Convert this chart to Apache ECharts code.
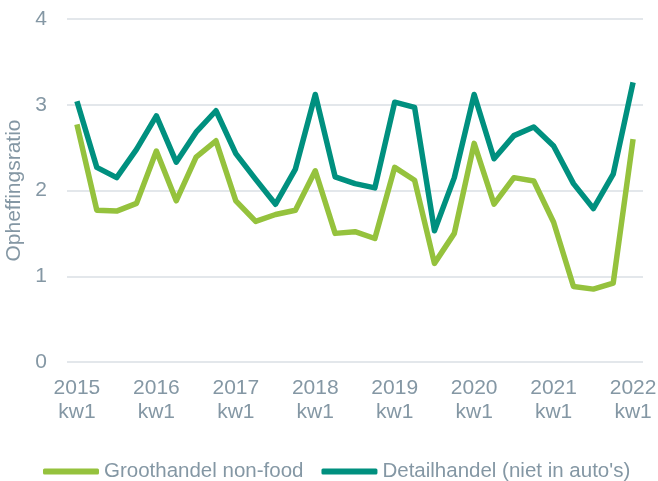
<!DOCTYPE html>
<html>
<head>
<meta charset="utf-8">
<script src="https://cdn.jsdelivr.net/npm/echarts@6/dist/echarts.min.js"></script>
<style>
  html, body { margin: 0; padding: 0; background: #fff; }
  #chart { width: 658px; height: 481px; }
</style>
</head>
<body>
<div id="chart"></div>
<script>
// kwartalen 2015 kw1 t/m 2022 kw1
const quarters = [
  '2015\nkw1', '2015\nkw2', '2015\nkw3', '2015\nkw4',
  '2016\nkw1', '2016\nkw2', '2016\nkw3', '2016\nkw4',
  '2017\nkw1', '2017\nkw2', '2017\nkw3', '2017\nkw4',
  '2018\nkw1', '2018\nkw2', '2018\nkw3', '2018\nkw4',
  '2019\nkw1', '2019\nkw2', '2019\nkw3', '2019\nkw4',
  '2020\nkw1', '2020\nkw2', '2020\nkw3', '2020\nkw4',
  '2021\nkw1', '2021\nkw2', '2021\nkw3', '2021\nkw4',
  '2022\nkw1'
]

const groothandel = [
  2.77, 1.77, 1.76, 1.85, 2.46, 1.88, 2.39, 2.58,
  1.88, 1.64, 1.72, 1.77, 2.23, 1.50, 1.52, 1.44,
  2.27, 2.12, 1.15, 1.50, 2.55, 1.84, 2.15, 2.11,
  1.63, 0.88, 0.85, 0.92, 2.60
]

const detailhandel = [
  3.04, 2.27, 2.15, 2.48, 2.87, 2.33, 2.68, 2.93,
  2.43, 2.13, 1.84, 2.25, 3.12, 2.16, 2.08, 2.03,
  3.03, 2.97, 1.53, 2.15, 3.12, 2.37, 2.64, 2.74,
  2.52, 2.08, 1.79, 2.19, 3.26
]

const yTicks = [0, 1, 2, 3, 4]

const textColor = '#8497A4'
const font = 'Liberation Sans, Arial, sans-serif'

const chart = echarts.init(document.getElementById('chart'), null, { renderer: 'canvas' })

chart.setOption({
  backgroundColor: '#fff',
  animation: false,
  textStyle: { fontFamily: font },
  grid: { left: 67, right: 15, top: 19, bottom: 119, outerBoundsMode: 'none' },
  legend: {
    left: 38,
    top: 456,
    itemWidth: 56,
    itemHeight: 6,
    itemGap: 18,
    icon: 'roundRect',
    textStyle: { color: textColor, fontSize: 20.5, fontFamily: font },
    data: ['Groothandel non-food', "Detailhandel (niet in auto's)"]
  },
  xAxis: {
    type: 'category',
    data: quarters,
    boundaryGap: true,
    axisLine: { show: false },
    axisTick: { show: false },
    axisLabel: {
      interval: 3,
      color: textColor,
      fontSize: 21,
      lineHeight: 24,
      margin: 14,
      fontFamily: font
    }
  },
  yAxis: {
    type: 'value',
    min: yTicks[0],
    max: yTicks[yTicks.length - 1],
    interval: 1,
    name: 'Opheffingsratio',
    nameLocation: 'middle',
    nameGap: 33,
    nameTextStyle: { color: textColor, fontSize: 21, fontFamily: font },
    axisLine: { show: false },
    axisTick: { show: false },
    axisLabel: { color: textColor, fontSize: 21, margin: 20, fontFamily: font },
    splitLine: { lineStyle: { color: '#E3E7EB', width: 2 } }
  },
  series: [
    {
      name: 'Groothandel non-food',
      type: 'line',
      data: groothandel,
      symbol: 'none',
      lineStyle: { color: '#95C23D', width: 5.5, join: 'round' },
      itemStyle: { color: '#95C23D' }
    },
    {
      name: "Detailhandel (niet in auto's)",
      type: 'line',
      data: detailhandel,
      symbol: 'none',
      lineStyle: { color: '#00907F', width: 5.5, join: 'round' },
      itemStyle: { color: '#00907F' }
    }
  ]
})
</script>
</body>
</html>
